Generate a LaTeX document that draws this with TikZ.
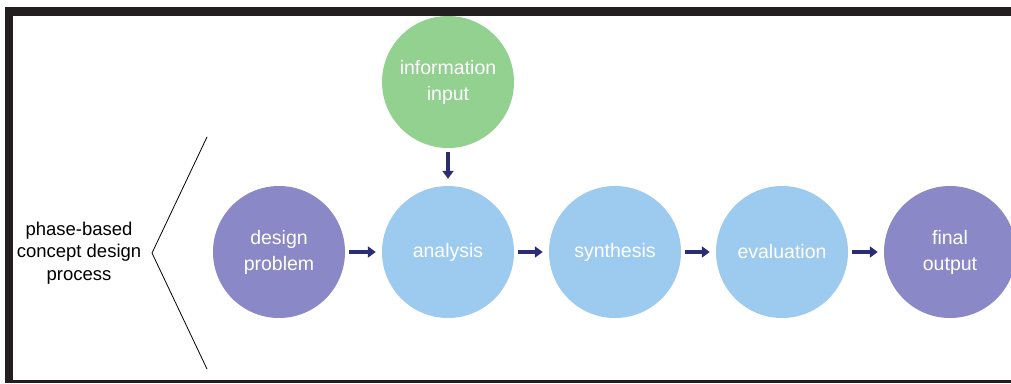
\documentclass[tikz,border=0pt]{standalone}
\usepackage{fontspec}
\setmainfont{Liberation Sans}
\usepackage{tikz}
\usetikzlibrary{arrows.meta}

\definecolor{framegray}{RGB}{35,31,32}
\definecolor{phasepurple}{RGB}{138,136,198}
\definecolor{phaseblue}{RGB}{157,203,239}
\definecolor{phasegreen}{RGB}{146,209,143}
\definecolor{arrownavy}{RGB}{42,44,116}

\begin{document}
\begin{tikzpicture}[line cap=round,line join=round,>={Triangle[length=8pt,width=11pt]},x=1pt,y=-1pt,
  phase/.style={circle, minimum size=132pt, inner sep=0pt, text=white, align=center,
    font=\fontsize{19.5}{26}\selectfont},
  flow/.style={->, color=arrownavy, line width=4pt, line cap=butt}]
\useasboundingbox (0,0) rectangle (1011,383);
% frame
\fill[framegray] (5,7) rectangle (1011,16);
\fill[framegray] (5,7) rectangle (13,383);
\fill[framegray] (5,380) rectangle (1011,383);
% phases
\draw (279,252) node[phase, fill=phasepurple] (problem) {design\\problem};
\draw (448,252) node[phase, fill=phaseblue] (analysis) {analysis};
\draw (615,252) node[phase, fill=phaseblue] (synthesis) {synthesis};
\draw (782,252) node[phase, fill=phaseblue] (evaluation) {evaluation};
\draw (950,252) node[phase, fill=phasepurple] (output) {final\\output};
\draw (448,82) node[phase, fill=phasegreen] (input) {information\\input};
% arrows
\draw[flow, shorten <=4pt, shorten >=6pt] (problem) -- (analysis);
\draw[flow, shorten <=4pt, shorten >=6pt] (analysis) -- (synthesis);
\draw[flow, shorten <=4pt, shorten >=6pt] (synthesis) -- (evaluation);
\draw[flow, shorten <=4pt, shorten >=6pt] (evaluation) -- (output);
\draw[flow, shorten <=4pt, shorten >=7pt] (input) -- (analysis);
% bracket and label
\coordinate (top) at (207,137);
\coordinate (tip) at (152,253);
\coordinate (bottom) at (207,369);
\draw[color=black, line width=0.8pt] (top) -- (tip) -- (bottom);
\draw (79,253) node[align=center, font=\fontsize{18.5}{22.5}\selectfont] (label) {phase-based\\concept design\\process};
\end{tikzpicture}
\end{document}
